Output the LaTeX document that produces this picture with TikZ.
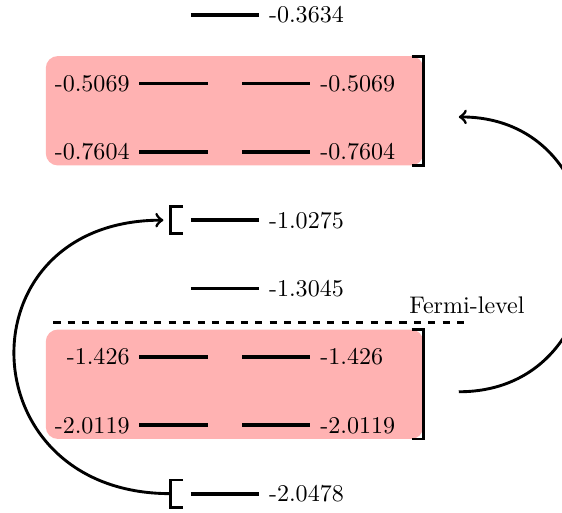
\documentclass[tikz,border=0pt]{standalone}
\usetikzlibrary{calc}

\begin{document}
\begin{tikzpicture}[very thick]
    \useasboundingbox (-3.29,0.22) rectangle (4.93,-7.27);

    % Shaded groups of levels
    \fill [red!30, rounded corners=5pt] (-2.62,-0.6) rectangle (2.9,-2.2);
    \fill [red!30, rounded corners=5pt] (-2.62,-4.6) rectangle (2.9,-6.2);

    % Single levels
    \foreach \n/\y/\e in {a/0/-0.3634, b/-3/-1.0275, c/-4/-1.3045, d/-7/-2.0478}
    {
        \coordinate (\n0) at (-0.5,\y);
        \coordinate (\n1) at (0.5,\y);
        \draw [ultra thick] (\n0) -- (\n1) node [right] (e\n) {\e};
    }

    % Paired levels
    \foreach \n/\y/\e in {f/-1/-0.5069, g/-2/-0.7604, h/-5/-1.426, i/-6/-2.0119}
    {
        \coordinate (\n0) at (-1.25,\y);
        \coordinate (\n1) at (-0.25,\y);
        \coordinate (\n2) at (0.25,\y);
        \coordinate (\n3) at (1.25,\y);
        \draw [ultra thick] (\n0) node [left] (l\n) {\e} -- (\n1);
        \draw [ultra thick] (\n2) -- (\n3) node [right] (r\n) {\e};
    }

    % Brackets
    \draw (2.73,-0.6) -- (2.9,-0.6) -- (2.9,-2.2) -- (2.73,-2.2);
    \draw (2.73,-4.6) -- (2.9,-4.6) -- (2.9,-6.2) -- (2.73,-6.2);
    \draw (-0.61,-2.8) -- (-0.79,-2.8) -- (-0.79,-3.2) -- (-0.61,-3.2);
    \draw (-0.61,-6.8) -- (-0.79,-6.8) -- (-0.79,-7.2) -- (-0.61,-7.2);

    % Fermi level
    \coordinate (f0) at (-2.51,-4.5);
    \coordinate (f1) at (3.54,-4.5);
    \draw [dashed] (f0) -- (f1) node [above] (fermi) {Fermi-level};

    % Transitions
    \coordinate (up0) at (-0.8,-7);
    \coordinate (up1) at (-0.9,-3);
    \draw [->] (up0) to [out=180, in=180, looseness=1.9] (up1);
    \coordinate (dn0) at (3.42,-5.51);
    \coordinate (dn1) at (3.42,-1.49);
    \draw [->] (dn0) to [out=0, in=0, looseness=1.6] (dn1);
\end{tikzpicture}
\end{document}
